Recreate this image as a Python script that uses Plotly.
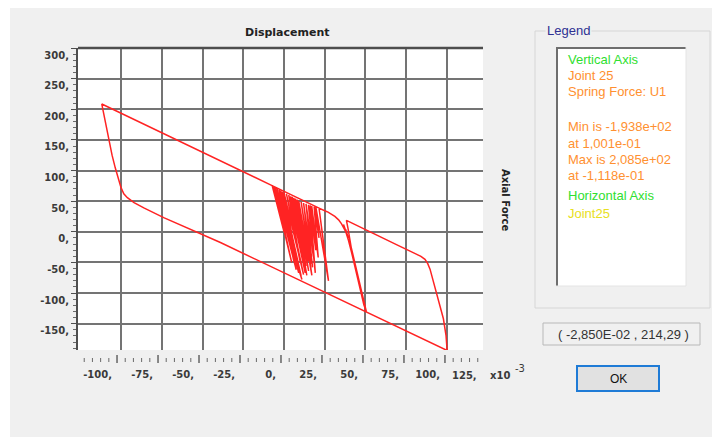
import plotly.graph_objects as go

# ---------------- data: displacement (x10^-3) and axial spring force ----------------
cluster_disp = [0.0, -7.3, 11.0, -6.5, 4.7, -5.5, 7.5, -4.3, 9.0, -3.0, 6.0, -2.0, 10.5,
                -1.0, 8.5, 0.0, 12.0, 1.5, 10.0, 2.9, 13.0, 4.0, 12.0, 5.0, 14.0, 6.0, 13.5,
                7.0, 15.1, 8.0, 15.0, 9.0, 17.1, 10.5, 16.5, 12.0, 17.5, 13.5, 18.0, 15.0, 19.2,
                16.0, 19.5, 17.0, 21.0, 18.5, 21.5, 19.5, 27.3, 21.5]
cluster_force = [0.0, 76.0, -78.0, 74.5, -50.0, 73.0, -62.0, 71.0, -67.0, 69.0, -48.0, 67.0, -72.0,
                 65.5, -55.0, 64.0, -70.0, 62.0, -50.0, 60.0, -67.0, 58.0, -52.0, 57.0, -71.0, 55.5, -56.0,
                 54.0, -64.0, 52.5, -48.0, 51.0, -71.0, 49.0, -52.0, 47.0, -58.0, 45.5, -40.0, 44.0, -67.0,
                 43.0, -30.0, 42.0, -42.0, 41.0, -10.0, 41.0, -80.0, 38.5]
knee_disp = [27.0, 31.2, 33.5, 35.3, 36.8, 38.3, 40.5, 37.0, 40.0, 36.5, 39.5, 37.8,
             41.4, 42.9, 44.4, 46.0, 47.5, 49.0, 50.5, 44.8, 41.2, 39.3, 38.3]
knee_force = [32.0, 25.0, 19.5, 13.0, 6.0, -2.0, -22.0, 10.0, -16.0, 12.0, -10.0, 4.0,
              -33.0, -50.0, -67.0, -86.0, -104.0, -119.0, -130.0, -68.0, -25.0, 5.0, 18.5]
right_disp = [69.0, 76.0, 81.0, 84.0, 86.5, 88.2, 89.6, 91.6, 93.7, 95.7, 97.8, 99.4, 100.1]
right_force = [-21.0, -29.5, -35.5, -40.0, -45.0, -52.0, -61.0, -80.0, -99.0, -120.6, -142.0, -169.0, -193.8]
lower_disp = [-39.0, -57.5, -73.8, -86.0]
lower_force = [-17.6, 3.5, 23.0, 39.0]
left_disp = [-92.0, -96.1, -98.3, -100.0, -101.6, -103.5, -105.5, -107.3, -109.5, -111.8]
left_force = [47.5, 55.6, 62.0, 72.0, 86.0, 104.0, 125.0, 150.0, 180.0, 208.5]
upper_disp = [-7.3, 26.0]
upper_force = [75.4, 33.0]

x_ticks = [-100, -75, -50, -25, 0, 25, 50, 75, 100]
x_ticktext = ["-100,", "-75,", "-50,", "-25,", "0,", "25,", "50,", "75,", "100,"]
x_last_text = "125,"
y_ticks = [-150, -100, -50, 0, 50, 100, 150, 200, 250, 300]
y_ticktext = ["-150,", "-100,", "-50,", "0,", "50,", "100,", "150,", "200,", "250,", "300,"]

legend_lines = ["Vertical Axis", "Joint 25", "Spring Force: U1",
                "Min is -1,938e+02", "at 1,001e-01", "Max is 2,085e+02", "at -1,118e-01",
                "Horizontal Axis", "Joint25"]
legend_colors = ["#2fe02f", "#ff9030", "#ff9030", "#ff9030", "#ff9030", "#ff9030", "#ff9030",
                 "#2fe02f", "#e8e020"]
cursor_text = "( -2,850E-02 , 214,29 )"

disp = cluster_disp + knee_disp + right_disp + lower_disp + left_disp + upper_disp
force = cluster_force + knee_force + right_force + lower_force + left_force + upper_force

# ---------------- layout helpers (positions given in screenshot pixels) ----------------
W, H = 720, 437
OFF = 8                      # page body margin of the html page
L, R, T, B = 78 - OFF, W - (483 - OFF), 48 - OFF, H - (372 - OFF)
PW, PH = W - L - R, H - T - B


def PX(px):
    return (px - OFF - L) / PW


def PY(py):
    return (H - B - (py - OFF)) / PH


BG = "#f0f0f0"
GRID = "#747474"
AX = "#4e4e4e"
TICKFONT = dict(family="DejaVu Sans", size=10, color="#3a3a3a", weight="bold")
TICK_RANGE = [-123.8, 123.2]

fig = go.Figure()
fig.add_trace(go.Scatter(x=disp, y=force, mode="lines",
                         line=dict(color="rgb(255,35,35)", width=1.5),
                         hoverinfo="skip", showlegend=False))
# empty carrier for the detached tick-label axis
fig.add_trace(go.Scatter(x=[], y=[], xaxis="x3", yaxis="y", mode="lines",
                         hoverinfo="skip", showlegend=False))

minor_x = [v for v in range(-120, 121, 5) if v % 25 != 0]
minor_y = [v for v in range(-190, 300, 10) if v % 50 != 0]

fig.update_layout(
    width=W, height=H,
    margin=dict(l=L, r=R, t=T, b=B),
    paper_bgcolor=BG, plot_bgcolor="white",
    showlegend=False,
    font=dict(family="Liberation Sans", size=11, color="#333"),
    xaxis=dict(domain=[0, 1], range=[-126.4, 122.1], tickmode="array", tickvals=x_ticks,
               showticklabels=False, ticks="", showgrid=True, gridcolor=GRID, gridwidth=1.6,
               zeroline=False, showline=False),
    # tick labels row (detached below the plot, as drawn by the original dialog)
    xaxis3=dict(overlaying="x", anchor="free", position=PY(367), range=TICK_RANGE,
                tickmode="array", tickvals=x_ticks, ticktext=x_ticktext, ticks="",
                ticklabelposition="outside left", ticklabelshift=-5,
                tickfont=TICKFONT, showgrid=False, zeroline=False, showline=False),
    yaxis=dict(domain=[PY(350), 1], range=[-193, 300], tickmode="array", tickvals=y_ticks,
               ticktext=y_ticktext, ticks="outside", ticklen=5, tickwidth=1.2, tickcolor=AX,
               showline=True, linecolor=AX, linewidth=2, showgrid=True, gridcolor=GRID,
               gridwidth=1.6, zeroline=False, ticklabelshift=7, tickfont=TICKFONT,
               minor=dict(tickmode="array", tickvals=minor_y, ticks="outside", ticklen=3,
                          tickwidth=1, tickcolor="#6a6a6a", showgrid=False)),
)

shapes = []
# detached tick-mark row, positioned through the x3 scale
for v in x_ticks:
    shapes.append(dict(type="line", xref="x3", yref="paper", x0=v, x1=v, y0=PY(355), y1=PY(363),
                       line=dict(color=AX, width=1.3)))
for v in minor_x:
    shapes.append(dict(type="line", xref="x3", yref="paper", x0=v, x1=v, y0=PY(358), y1=PY(362),
                       line=dict(color="#6a6a6a", width=1)))
# window white left edge (beyond the page margin)
shapes.append(dict(type="rect", xref="paper", yref="paper", x0=PX(OFF), x1=PX(10), y0=PY(H + OFF), y1=PY(OFF),
                   fillcolor="white", line=dict(width=0), layer="below"))
# top frame of plot
shapes.append(dict(type="line", xref="x domain", yref="y domain", x0=0, x1=1, y0=1, y1=1,
                   line=dict(color=AX, width=2.5)))
# legend group box
shapes.append(dict(type="rect", xref="paper", yref="paper", x0=PX(535), x1=PX(710), y0=PY(308), y1=PY(31),
                   line=dict(color="#d6d6d6", width=1), fillcolor="rgba(0,0,0,0)", layer="below"))
shapes.append(dict(type="rect", xref="paper", yref="paper", x0=PX(556), x1=PX(686), y0=PY(286), y1=PY(47),
                   fillcolor="white", line=dict(width=0), layer="below"))
shapes.append(dict(type="line", xref="paper", yref="paper", x0=PX(556), x1=PX(686), y0=PY(48), y1=PY(48),
                   line=dict(color="#6e6e6e", width=2)))
shapes.append(dict(type="line", xref="paper", yref="paper", x0=PX(557), x1=PX(557), y0=PY(47), y1=PY(286),
                   line=dict(color="#6e6e6e", width=2)))
shapes.append(dict(type="line", xref="paper", yref="paper", x0=PX(686), x1=PX(686), y0=PY(47), y1=PY(286),
                   line=dict(color="#e4e4e4", width=1)))
shapes.append(dict(type="line", xref="paper", yref="paper", x0=PX(556), x1=PX(686), y0=PY(286), y1=PY(286),
                   line=dict(color="#e4e4e4", width=1)))
# cursor coordinate box
shapes.append(dict(type="rect", xref="paper", yref="paper", x0=PX(543), x1=PX(700), y0=PY(345), y1=PY(323),
                   fillcolor=BG, line=dict(color="#b8b8b8", width=1), layer="below"))
# OK button
shapes.append(dict(type="rect", xref="paper", yref="paper", x0=PX(577), x1=PX(659), y0=PY(391), y1=PY(366),
                   fillcolor="#e1e1e1", line=dict(color="#1f7bd6", width=2), layer="below"))


def note(text, px, py, font, xanchor="center", **kw):
    return dict(text=text, x=PX(px), y=PY(py), xref="paper", yref="paper", showarrow=False,
                xanchor=xanchor, yanchor="middle", font=font, **kw)


ann = []
ann.append(note("Displacement", 287, 32, dict(family="DejaVu Sans", size=11, color="#222", weight="bold")))
ann.append(note("Axial Force", 506, 200, dict(family="DejaVu Sans", size=10, color="#222", weight="bold"),
                textangle=90))
ann.append(note(x_last_text, 479, 375, TICKFONT, xanchor="right"))
ann.append(note("x10", 500, 375, TICKFONT))
ann.append(note("-3", 520, 368, dict(family="DejaVu Sans", size=10, color="#3a3a3a")))
ann.append(note("Legend", 545, 31, dict(family="Liberation Sans", size=13, color="#2e3192"),
                xanchor="left", bgcolor=BG))
legend_y = [59, 75, 91, 127, 143, 159, 175, 195, 213]
for txt, col, yy in zip(legend_lines, legend_colors, legend_y):
    ann.append(note(txt, 566, yy, dict(family="Liberation Sans", size=13, color=col), xanchor="left"))
ann.append(note(cursor_text, 623, 334, dict(family="Liberation Sans", size=13, color="#333")))
ann.append(note("OK", 618, 379, dict(family="Liberation Sans", size=12, color="#111")))

fig.update_layout(shapes=shapes, annotations=ann)
fig.write_html("out.html")
